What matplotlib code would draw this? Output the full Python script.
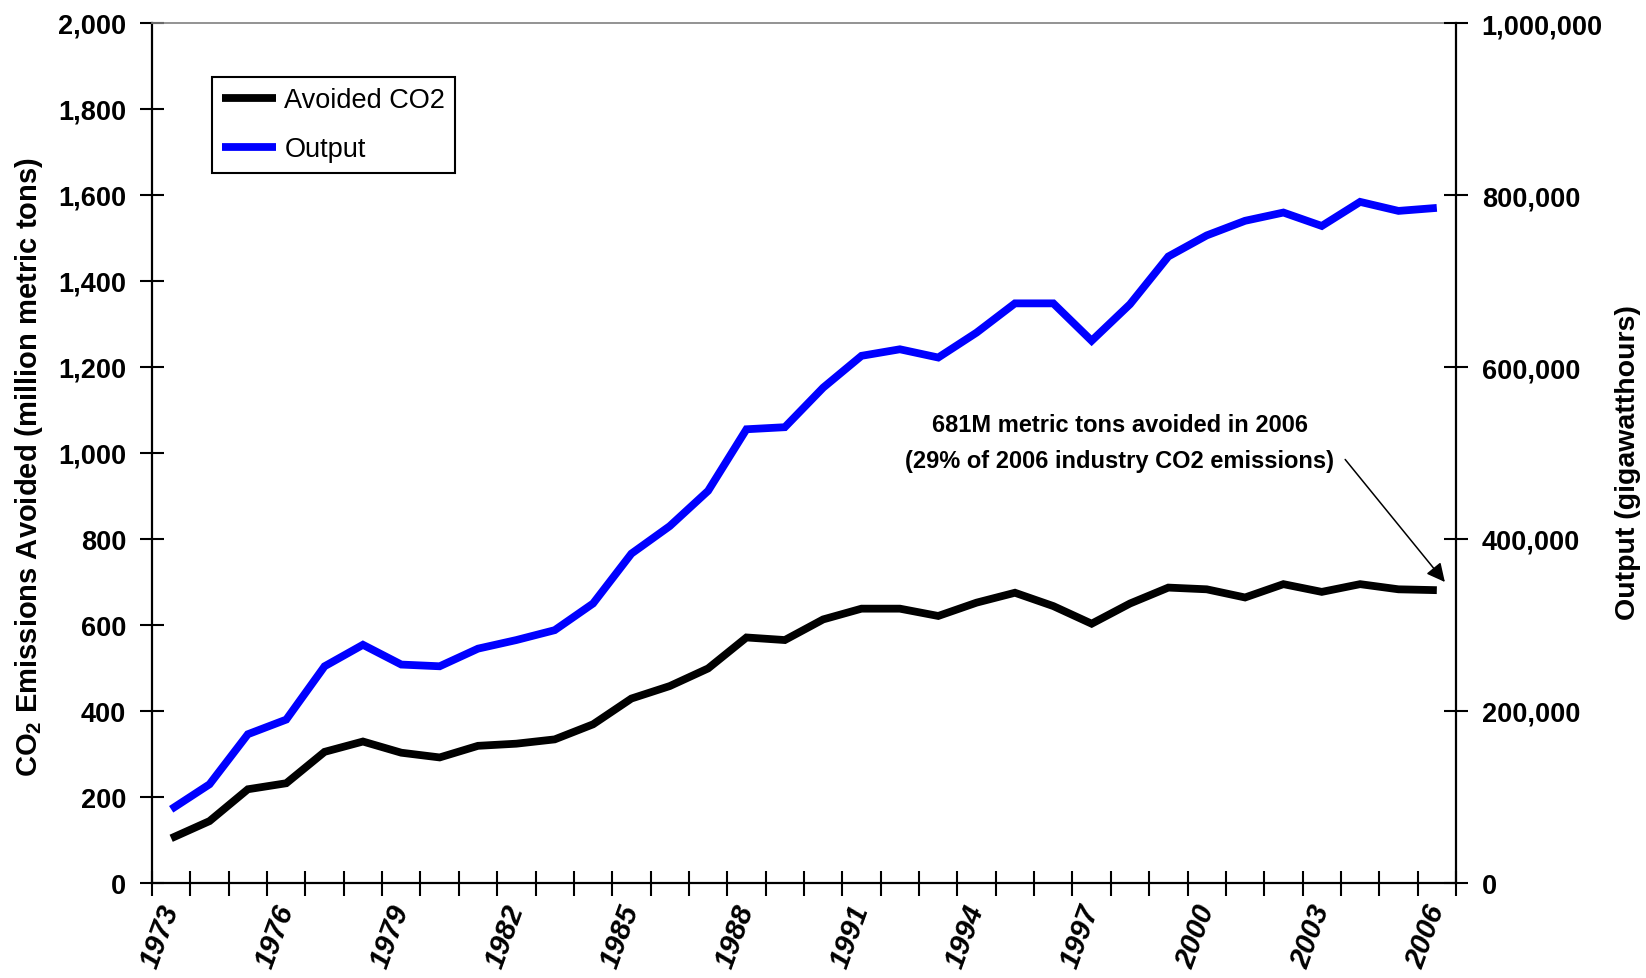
import matplotlib
matplotlib.use("Agg")
import matplotlib.pyplot as plt
from matplotlib.ticker import FuncFormatter, FixedLocator, NullFormatter

plt.rcParams["font.family"] = ["Liberation Sans", "DejaVu Sans"]
plt.rcParams["mathtext.fontset"] = "custom"
plt.rcParams["mathtext.rm"] = "Liberation Sans"
plt.rcParams["mathtext.bf"] = "Liberation Sans:bold"

# Annual figures, 1973-2006
years = list(range(1973, 2007))
avoided_co2 = [104, 144, 218, 232, 305, 329, 303, 292, 319, 324, 334, 369,
               429, 458, 499, 571, 565, 613, 638, 638, 621, 652, 675, 644,
               603, 650, 687, 683, 664, 695, 677, 695, 683, 681]
output_gwh = [85700, 114800, 173000, 190000, 252000, 277000, 254000, 252000,
              272500, 282500, 294000, 325000, 383000, 415000, 456000, 527600,
              530000, 576000, 613000, 620600, 611000, 640000, 674000, 674000,
              630500, 673000, 728500, 753000, 770000, 779600, 764000, 792000,
              781500, 785000]
left_ticks = list(range(0, 2001, 200))
right_ticks = list(range(0, 1000001, 200000))
year_label_step = 3

W, H = 1646, 979
fig = plt.figure(figsize=(W / 100, H / 100), dpi=100)
ax = fig.add_axes([152 / W, 1 - 884 / H, 1304 / W, 860 / H])
ax2 = ax.twinx()

x = list(range(len(years)))
line_co2, = ax.plot(x, avoided_co2, color="black", lw=5.6,
                    solid_capstyle="butt", solid_joinstyle="miter",
                    label="Avoided CO2")
line_out, = ax2.plot(x, output_gwh, color="#0000ff", lw=5.6,
                     solid_capstyle="butt", solid_joinstyle="miter",
                     label="Output")

ax.set_xlim(-0.5, len(years) - 0.5)
ax.set_ylim(0, 2000)
ax2.set_ylim(0, 1000000)

comma = FuncFormatter(lambda v, p: f"{int(v):,}")
ax.set_yticks(left_ticks)
ax.yaxis.set_major_formatter(comma)
ax2.set_yticks(right_ticks)
ax2.yaxis.set_major_formatter(comma)

# Category boundaries carry the tick marks; year labels sit at category centres
ax.xaxis.set_major_locator(FixedLocator([i - 0.5 for i in range(len(years) + 1)]))
ax.xaxis.set_major_formatter(NullFormatter())
label_pos = list(range(0, len(years), year_label_step))
ax.set_xticks(label_pos, minor=True)
ax.set_xticklabels([str(years[i]) for i in label_pos], minor=True,
                   rotation=70, ha="right", va="center",
                   rotation_mode="anchor", fontsize=21,
                   fontweight="bold", fontstyle="italic")
ax.tick_params(axis="x", which="major", direction="inout", length=18,
               width=1.5, color="black")
ax.tick_params(axis="x", which="minor", direction="out", length=0, pad=16)

ax.tick_params(axis="y", which="major", direction="inout", length=17,
               width=1.5, pad=10, labelsize=19.5)
ax2.tick_params(axis="y", which="major", direction="inout", length=17,
                width=1.5, pad=10, labelsize=19.5)
for lab in ax.get_yticklabels() + ax2.get_yticklabels():
    lab.set_fontweight("bold")

for a in (ax, ax2):
    for s in a.spines.values():
        s.set_visible(False)
ax.spines["left"].set_visible(True)
ax.spines["left"].set_linewidth(1.6)
ax.spines["bottom"].set_visible(True)
ax.spines["bottom"].set_linewidth(1.6)
ax.spines["top"].set_visible(True)
ax.spines["top"].set_color("#808080")
ax.spines["top"].set_linewidth(1.2)
ax2.spines["right"].set_visible(True)
ax2.spines["right"].set_linewidth(1.6)

fig.text(29 / W, 1 - 467 / H,
         r"CO$_\mathbf{2}$ Emissions Avoided (million metric tons)",
         rotation=90, ha="center", va="center", fontsize=21,
         fontweight="bold")
fig.text(1628 / W, 1 - 463 / H, "Output (gigawatthours)",
         rotation=90, ha="center", va="center", fontsize=20.5,
         fontweight="bold")

# Callout for the final year
last = len(years) - 1
ax.text(30.32, 1024,
        f"{avoided_co2[last]}M metric tons avoided in {years[last]}\n"
        f"(29% of {years[last]} industry CO2 emissions)",
        ha="right", va="center", multialignment="center",
        fontsize=17, fontweight="bold", linespacing=1.75)
ax.annotate("", xy=(last + 0.21, 700), xytext=(30.61, 985),
            arrowprops=dict(arrowstyle="-|>", color="black", lw=1.1,
                            mutation_scale=28, shrinkA=0, shrinkB=0))

leg = ax2.legend(handles=[line_co2, line_out], loc="upper left",
                 bbox_to_anchor=(0.0458, 0.937), borderaxespad=0,
                 fontsize=19.5, handlelength=2.0, handletextpad=0.3,
                 borderpad=0.38, labelspacing=0.85, fancybox=False,
                 framealpha=1, edgecolor="black")
leg.get_frame().set_linewidth(1.5)

fig.savefig("out.png", dpi=100, facecolor="white")
